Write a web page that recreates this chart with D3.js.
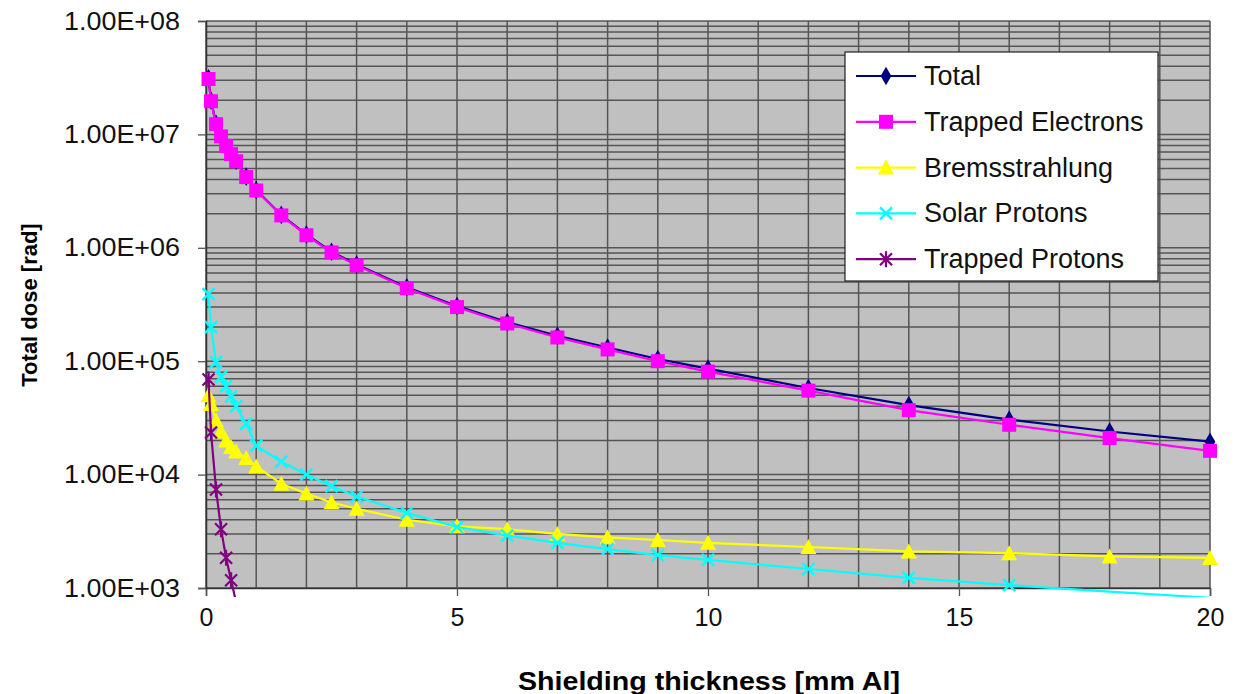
<!DOCTYPE html>
<html>
    <head>
        <meta charset="utf-8">
        <script src="https://d3js.org/d3.v7.min.js"></script>
        <style>
            body {
                margin: 0;
                background-color: white;
            }
            text {
                font-family: Arial, "Liberation Sans", sans-serif;
            }
        </style>
    </head>
    <body>
    <script>

        // shielding thickness in mm Al
        const thickness = [0.05, 0.1, 0.2, 0.3, 0.4, 0.5, 0.6, 0.8, 1.0, 1.5, 2.0, 2.5, 3.0,
                           4, 5, 6, 7, 8, 9, 10, 12, 14, 16, 18, 20];

        const total = [3.13e7, 1.99e7, 1.24e7, 9.7e6, 7.98e6, 6.77e6, 5.86e6, 4.24e6, 3.23e6,
                       1.95e6, 1.31e6, 9.24e5, 7.11e5, 4.49e5, 3.07e5, 2.21e5, 1.675e5, 1.32e5,
                       1.046e5, 8.6e4, 5.8e4, 4.1e4, 3.05e4, 2.4e4, 1.95e4];
        const trappedElectrons = [3.08e7, 1.96e7, 1.23e7, 9.6e6, 7.9e6, 6.7e6, 5.8e6, 4.2e6, 3.2e6,
                       1.93e6, 1.29e6, 9.1e5, 7.0e5, 4.4e5, 3.0e5, 2.15e5, 1.62e5, 1.27e5,
                       1.0e5, 8.1e4, 5.5e4, 3.7e4, 2.75e4, 2.1e4, 1.62e4];
        const bremsstrahlung = [5.0e4, 4.2e4, 3.0e4, 2.4e4, 2.0e4, 1.75e4, 1.6e4, 1.4e4, 1.18e4,
                       8.3e3, 6.8e3, 5.7e3, 5.0e3, 4.0e3, 3.5e3, 3.3e3, 3.0e3, 2.8e3,
                       2.65e3, 2.5e3, 2.3e3, 2.1e3, 2.03e3, 1.9e3, 1.84e3];
        const solarProtons = [3.9e5, 2.0e5, 9.8e4, 7.3e4, 6.0e4, 4.9e4, 4.0e4, 2.8e4, 1.8e4,
                       1.3e4, 1.0e4, 7.9e3, 6.4e3, 4.6e3, 3.45e3, 2.9e3, 2.5e3, 2.2e3,
                       1.95e3, 1.77e3, 1.47e3, 1.23e3, 1.06e3, 9.3e2, 8.2e2];
        const trappedProtons = [6.9e4, 2.35e4, 7.4e3, 3.3e3, 1.85e3, 1.17e3, 7.5e2];

        const xTicks = [0, 5, 10, 15, 20];
        const yTicks = [1e3, 1e4, 1e5, 1e6, 1e7, 1e8];

        const series = [
            {name: 'Total', values: total, color: '#000080', marker: 'diamond'},
            {name: 'Trapped Electrons', values: trappedElectrons, color: '#ff00ff', marker: 'square'},
            {name: 'Bremsstrahlung', values: bremsstrahlung, color: '#ffff00', marker: 'triangle'},
            {name: 'Solar Protons', values: solarProtons, color: '#00ffff', marker: 'x'},
            {name: 'Trapped Protons', values: trappedProtons, color: '#800080', marker: 'star'}
        ];

        const width = 1238;
        const height = 694;
        const plot = {left: 206, right: 1210, top: 21, bottom: 588};

        var svg = d3.select('body')
            .append('svg')
            .attr('width', width)
            .attr('height', height);

        var xScale = d3.scaleLinear().domain([0, 20]).range([plot.left, plot.right]);
        var yScale = d3.scaleLog().domain([1e3, 1e8]).range([plot.bottom, plot.top]);

        // plot background
        svg.append('rect')
            .attr('x', plot.left)
            .attr('y', plot.top)
            .attr('width', plot.right - plot.left)
            .attr('height', plot.bottom - plot.top)
            .style('fill', '#c0c0c0');

        // grid: every mm vertically, log minor lines horizontally
        var grid = svg.append('g').style('stroke', '#555').style('stroke-width', 1.5);
        grid.selectAll('.vgrid')
            .data(d3.range(0, 21))
            .enter()
            .append('line')
            .attr('x1', d => xScale(d))
            .attr('x2', d => xScale(d))
            .attr('y1', plot.top)
            .attr('y2', plot.bottom);
        grid.selectAll('.hgrid')
            .data(yScale.ticks())
            .enter()
            .append('line')
            .attr('x1', plot.left)
            .attr('x2', plot.right)
            .attr('y1', d => yScale(d))
            .attr('y2', d => yScale(d));

        // axes
        var xAxis = d3.axisBottom(xScale).tickValues(xTicks).tickSize(8).tickPadding(10);
        var yAxis = d3.axisLeft(yScale).tickValues(yTicks).tickSize(8).tickPadding(18)
            .tickFormat(d => '1.00E+0' + Math.round(Math.log10(d)));

        var gx = svg.append('g')
            .attr('transform', 'translate(0,' + plot.bottom + ')')
            .call(xAxis);
        var gy = svg.append('g')
            .attr('transform', 'translate(' + plot.left + ',0)')
            .call(yAxis);

        [gx, gy].forEach(function(g) {
            g.select('.domain').style('stroke', '#333').style('stroke-width', 1.5);
            g.selectAll('.tick line').style('stroke', '#555').style('stroke-width', 1.3);
            g.selectAll('text')
                .style('font-size', '25px')
                .style('font-family', 'Arial, "Liberation Sans", sans-serif')
                .style('fill', '#111');
        });
        gy.selectAll('text')
            .attr('textLength', 116)
            .attr('lengthAdjust', 'spacingAndGlyphs');
        gx.selectAll('text').attr('dy', '0.8em');

        // axis titles
        svg.append('text')
            .attr('x', 709)
            .attr('y', 690)
            .attr('text-anchor', 'middle')
            .attr('textLength', 382)
            .attr('lengthAdjust', 'spacingAndGlyphs')
            .style('font-size', '25px')
            .style('font-weight', 'bold')
            .text('Shielding thickness [mm Al]');

        svg.append('text')
            .attr('transform', 'translate(37,305) rotate(-90)')
            .attr('text-anchor', 'middle')
            .style('font-size', '22px')
            .style('font-weight', 'bold')
            .text('Total dose [rad]');

        // markers
        function drawMarker(g, type, color, x, y) {
            if (type === 'diamond') {
                g.append('path')
                    .attr('d', d3.symbol().type(d3.symbolDiamond).size(100)())
                    .attr('transform', 'translate(' + x + ',' + y + ')')
                    .style('fill', color);
            } else if (type === 'square') {
                g.append('rect')
                    .attr('x', x - 7).attr('y', y - 7)
                    .attr('width', 14).attr('height', 14)
                    .style('fill', color);
            } else if (type === 'triangle') {
                g.append('path')
                    .attr('d', 'M' + x + ',' + (y - 8) + 'L' + (x + 8) + ',' + (y + 7) + 'L' + (x - 8) + ',' + (y + 7) + 'Z')
                    .style('fill', color);
            } else if (type === 'x') {
                g.append('path')
                    .attr('d', 'M' + (x - 6) + ',' + (y - 6) + 'L' + (x + 6) + ',' + (y + 6) +
                               'M' + (x - 6) + ',' + (y + 6) + 'L' + (x + 6) + ',' + (y - 6))
                    .style('stroke', color).style('stroke-width', 2.4);
            } else if (type === 'star') {
                g.append('path')
                    .attr('d', 'M' + (x - 6) + ',' + (y - 6) + 'L' + (x + 6) + ',' + (y + 6) +
                               'M' + (x - 6) + ',' + (y + 6) + 'L' + (x + 6) + ',' + (y - 6) +
                               'M' + x + ',' + (y - 8) + 'L' + x + ',' + (y + 8))
                    .style('stroke', color).style('stroke-width', 2.2);
            }
        }

        svg.append('clipPath')
            .attr('id', 'clip')
            .append('rect')
            .attr('x', plot.left - 10)
            .attr('y', plot.top)
            .attr('width', plot.right - plot.left + 20)
            .attr('height', plot.bottom - plot.top + 9);

        var line = d3.line()
            .x(d => xScale(d[0]))
            .y(d => yScale(d[1]));

        var chart = svg.append('g').attr('clip-path', 'url(#clip)');

        series.forEach(function(s) {
            let pts = s.values.map((v, i) => [thickness[i], v]);
            chart.append('path')
                .datum(pts)
                .attr('d', line)
                .style('fill', 'none')
                .style('stroke', s.color)
                .style('stroke-width', 2.2);
            let mg = chart.append('g');
            pts.filter(p => p[1] >= 1e3).forEach(function(p) {
                drawMarker(mg, s.marker, s.color, xScale(p[0]), yScale(p[1]));
            });
        });

        // legend
        var legend = svg.append('g');
        legend.append('rect')
            .attr('x', 845)
            .attr('y', 52)
            .attr('width', 313)
            .attr('height', 229)
            .style('fill', 'white')
            .style('stroke', '#222')
            .style('stroke-width', 1.2);

        series.forEach(function(s, i) {
            let ly = 76 + i * 45.8;
            legend.append('line')
                .attr('x1', 856).attr('x2', 916)
                .attr('y1', ly).attr('y2', ly)
                .style('stroke', s.color)
                .style('stroke-width', 2.2);
            drawMarker(legend, s.marker, s.color, 886, ly);
            legend.append('text')
                .attr('x', 924)
                .attr('y', ly + 9)
                .style('font-size', '27px')
                .style('fill', '#111')
                .text(s.name);
        });

    </script>
    </body>
</html>
